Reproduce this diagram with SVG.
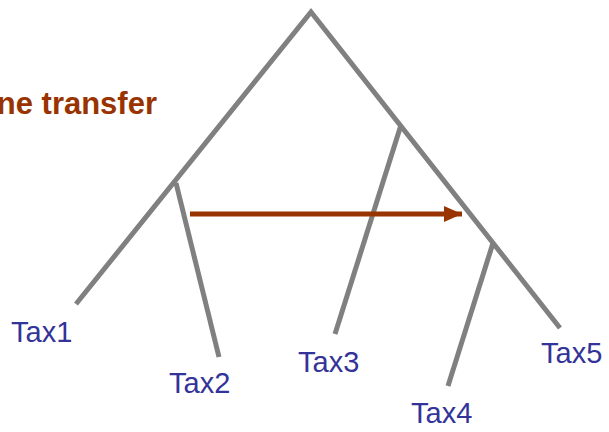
<svg xmlns="http://www.w3.org/2000/svg" width="609" height="432" viewBox="0 0 609 432">
<style>
.br{stroke:#808080;stroke-width:5;fill:none;stroke-linecap:butt;stroke-linejoin:miter}
.tax{font-family:"Liberation Sans",Arial,sans-serif;font-size:29px;fill:#333399}
.ttl{font-family:"Liberation Sans",Arial,sans-serif;font-size:31px;font-weight:bold;fill:#993300}
</style>
<defs>
<marker id="ah" markerUnits="userSpaceOnUse" markerWidth="20" markerHeight="16" refX="18" refY="8" orient="auto">
<path d="M0,0 L18,8 L0,16 Z" fill="#993300"/>
</marker>
</defs>
<rect width="609" height="432" fill="#ffffff"/>
<g id="connectors">
<path class="br" d="M76,304 L311,12 L560,328"/>
<path class="br" d="M176,183 L219,357"/>
<path class="br" d="M401,125 L335,334"/>
<path class="br" d="M493,243 L448,386"/>
<line x1="190" y1="214" x2="462" y2="214" stroke="#993300" stroke-width="5" marker-end="url(#ah)"/>
</g>
<g id="title"><text class="ttl" x="157" y="114" text-anchor="end">ne transfer</text></g>
<g id="tax1"><text class="tax" x="11" y="342">Tax1</text></g>
<g id="tax2"><text class="tax" x="169" y="393">Tax2</text></g>
<g id="tax3"><text class="tax" x="298" y="372">Tax3</text></g>
<g id="tax4"><text class="tax" x="411" y="423">Tax4</text></g>
<g id="tax5"><text class="tax" x="541" y="363">Tax5</text></g>
</svg>
